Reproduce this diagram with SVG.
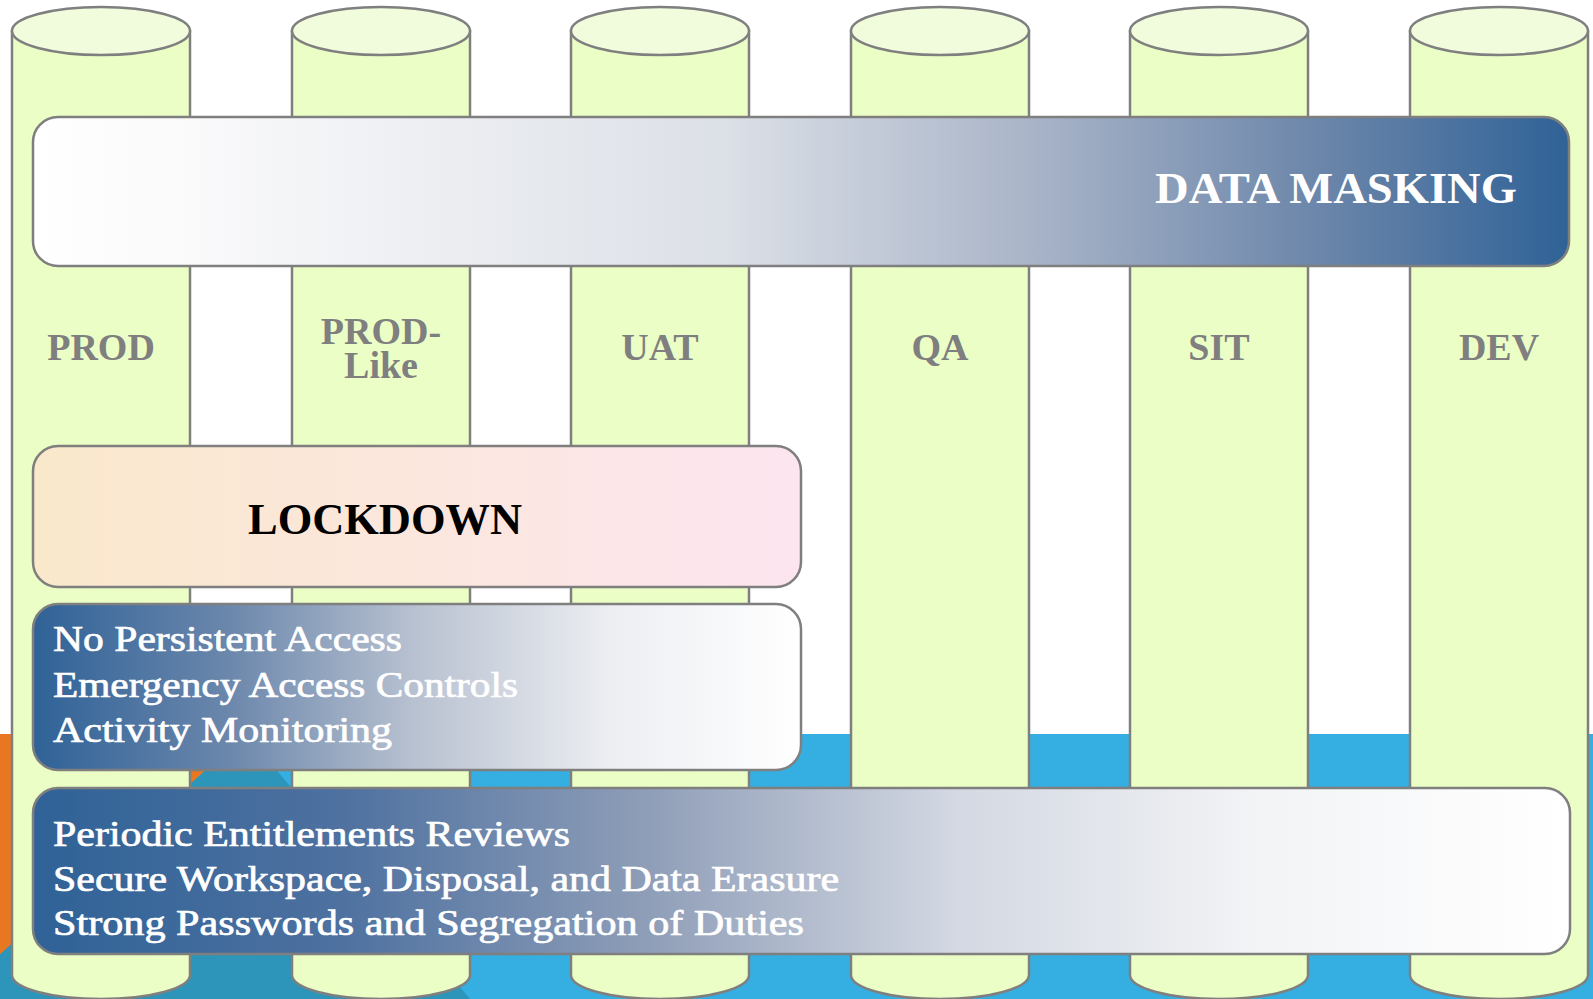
<svg xmlns="http://www.w3.org/2000/svg" width="1593" height="999" viewBox="0 0 1593 999">
<defs>
<linearGradient id="gMask" x1="0" y1="0" x2="1" y2="0">
<stop offset="0" stop-color="#FFFFFF"/>
<stop offset="0.1" stop-color="#FAFAFB"/>
<stop offset="0.45" stop-color="#DCE0E7"/>
<stop offset="0.65" stop-color="#A9B4C8"/>
<stop offset="0.85" stop-color="#6783A8"/>
<stop offset="1" stop-color="#2F6297"/>
</linearGradient>
<linearGradient id="gLock" x1="0" y1="0" x2="1" y2="0">
<stop offset="0" stop-color="#FAE8CB"/>
<stop offset="1" stop-color="#FDE5F0"/>
</linearGradient>
<linearGradient id="gMid" x1="0" y1="0" x2="1" y2="0">
<stop offset="0" stop-color="#2F6297"/>
<stop offset="0.25" stop-color="#6A86AB"/>
<stop offset="0.5" stop-color="#B9C2D1"/>
<stop offset="0.75" stop-color="#ECEEF2"/>
<stop offset="1" stop-color="#FFFFFF"/>
</linearGradient>
<linearGradient id="gBot" x1="0" y1="0" x2="1" y2="0">
<stop offset="0" stop-color="#2F6297"/>
<stop offset="0.2" stop-color="#4E71A0"/>
<stop offset="0.4" stop-color="#8F9EB8"/>
<stop offset="0.6" stop-color="#D3D8E2"/>
<stop offset="0.8" stop-color="#F3F4F6"/>
<stop offset="1" stop-color="#FFFFFF"/>
</linearGradient>
</defs>
<style>
.cyl{fill:#EBFEC5;stroke:#7F7F7F;stroke-width:2.5}
.cyltop{fill:#F1FCDD;stroke:#7F7F7F;stroke-width:2.5}
.lbl{font-family:"Liberation Serif","Times New Roman",serif;font-weight:bold;font-size:38px;fill:#7F7F7F;text-anchor:middle}
.box{stroke:#7F7F7F;stroke-width:2.5}
.wt{font-family:"Liberation Serif","Times New Roman",serif;font-size:36px;fill:#FFFFFF;stroke:#FFFFFF;stroke-width:0.7}
.hd{font-family:"Liberation Serif","Times New Roman",serif;font-weight:bold;font-size:44px}
</style>
<rect x="0" y="0" width="1593" height="999" fill="#FFFFFF"/>
<g id="background">
<rect x="0" y="734" width="1593" height="265" fill="#35AEE2"/>
<polygon points="0,734 246,734 0,955" fill="#E87722"/>
<polygon points="246,734 470,999 -50,999" fill="#2E95BA"/>
</g>
<g id="cyl-prod">
<path class="cyl" d="M12,31 V975 A89,24 0 0 0 190,975 V31 Z"/>
<ellipse class="cyltop" cx="101" cy="31" rx="89" ry="24"/>
<text class="lbl" x="101" y="360">PROD</text>
</g>
<g id="cyl-prodlike">
<path class="cyl" d="M292,31 V975 A89,24 0 0 0 470,975 V31 Z"/>
<ellipse class="cyltop" cx="381" cy="31" rx="89" ry="24"/>
<text class="lbl" x="381" y="344"><tspan x="381" y="344">PROD-</tspan><tspan x="381" y="378">Like</tspan></text>
</g>
<g id="cyl-uat">
<path class="cyl" d="M571,31 V975 A89,24 0 0 0 749,975 V31 Z"/>
<ellipse class="cyltop" cx="660" cy="31" rx="89" ry="24"/>
<text class="lbl" x="660" y="360">UAT</text>
</g>
<g id="cyl-qa">
<path class="cyl" d="M851,31 V975 A89,24 0 0 0 1029,975 V31 Z"/>
<ellipse class="cyltop" cx="940" cy="31" rx="89" ry="24"/>
<text class="lbl" x="940" y="360">QA</text>
</g>
<g id="cyl-sit">
<path class="cyl" d="M1130,31 V975 A89,24 0 0 0 1308,975 V31 Z"/>
<ellipse class="cyltop" cx="1219" cy="31" rx="89" ry="24"/>
<text class="lbl" x="1219" y="360">SIT</text>
</g>
<g id="cyl-dev">
<path class="cyl" d="M1410,31 V975 A89,24 0 0 0 1588,975 V31 Z"/>
<ellipse class="cyltop" cx="1499" cy="31" rx="89" ry="24"/>
<text class="lbl" x="1499" y="360">DEV</text>
</g>
<g id="connectors"></g>
<g id="data-masking">
<rect class="box" x="33" y="117" width="1536" height="149" rx="25" fill="url(#gMask)"/>
<text class="hd" x="1155" y="203" fill="#FFFFFF" textLength="362" lengthAdjust="spacingAndGlyphs">DATA MASKING</text>
</g>
<g id="lockdown">
<rect class="box" x="33" y="446" width="768" height="141" rx="25" fill="url(#gLock)"/>
<text class="hd" x="248" y="534" fill="#000000" textLength="274" lengthAdjust="spacingAndGlyphs">LOCKDOWN</text>
</g>
<g id="lockdown-controls">
<rect class="box" x="33" y="604" width="768" height="166" rx="25" fill="url(#gMid)"/>
<text class="wt" x="53" y="651" textLength="349" lengthAdjust="spacingAndGlyphs">No Persistent Access</text>
<text class="wt" x="53" y="697" textLength="465" lengthAdjust="spacingAndGlyphs">Emergency Access Controls</text>
<text class="wt" x="53" y="742" textLength="339" lengthAdjust="spacingAndGlyphs">Activity Monitoring</text>
</g>
<g id="general-controls">
<rect class="box" x="33" y="788" width="1537" height="166" rx="25" fill="url(#gBot)"/>
<text class="wt" x="53" y="846" textLength="517" lengthAdjust="spacingAndGlyphs">Periodic Entitlements Reviews</text>
<text class="wt" x="53" y="891" textLength="786" lengthAdjust="spacingAndGlyphs">Secure Workspace, Disposal, and Data Erasure</text>
<text class="wt" x="53" y="935" textLength="751" lengthAdjust="spacingAndGlyphs">Strong Passwords and Segregation of Duties</text>
</g>
</svg>
